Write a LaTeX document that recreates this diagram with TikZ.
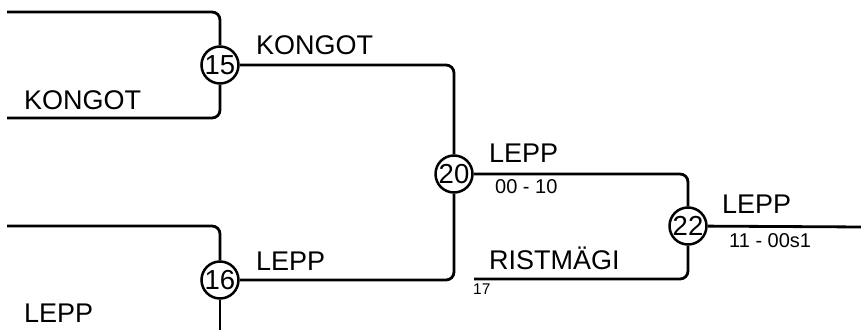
\documentclass[tikz,border=0pt]{standalone}
\usepackage{fontspec}
\setmainfont{Liberation Sans}
\begin{document}
\begin{tikzpicture}[x=1pt,y=-1pt,
  wire/.style={line width=2.8pt,rounded corners=8pt},
  junc/.style={circle,draw,line width=2.5pt,fill=white,minimum size=37pt,inner sep=0pt,font=\fontsize{27.5}{27.5}\selectfont},
  big/.style={anchor=base west,inner sep=0pt,font=\fontsize{27}{27}\selectfont},
  small/.style={anchor=base west,inner sep=0pt,font=\fontsize{20}{20}\selectfont},
  tiny/.style={anchor=base west,inner sep=0pt,font=\fontsize{15.5}{15.5}\selectfont}]
\useasboundingbox (0,0) rectangle (861,329);
% junctions
\node[junc] (n15) at (220,65) {15};
\node[junc] (n16) at (220,280) {16};
\node[junc] (n20) at (454,174) {20};
\node[junc] (n22) at (688,226) {22};
% free ends
\coordinate (a1) at (7,12);
\coordinate (a2) at (7,118);
\coordinate (b1) at (7,226);
\coordinate (b2) at (220,332);
\coordinate (c1) at (474,279);
\coordinate (e1) at (864,227);
% connectors
\draw[wire] (a1) -| (n15);
\draw[wire] (a2) -| (n15);
\draw[wire] (b1) -| (n16);
\draw[wire] (n16) -- (b2);
\draw[wire] (n15) -| (n20);
\draw[wire] (n16) -| (n20);
\draw[wire] (n20) -| (n22);
\draw[wire] (c1) -| (n22);
\draw[wire] (n22) -- (e1);
% labels
\node[big] (t1) at (256,55) {KONGOT};
\node[big] (t2) at (24,109) {KONGOT};
\node[big] (t3) at (256,270) {LEPP};
\node[big] (t4) at (24,322) {LEPP};
\node[big] (t5) at (489,162) {LEPP};
\node[small] (t6) at (495,193) {00 - 10};
\node[big] (t7) at (489,269) {RISTMÄGI};
\node[tiny] (t8) at (473,294) {17};
\node[big] (t9) at (722,213) {LEPP};
\node[small] (t10) at (729,247) {11 - 00s1};
\end{tikzpicture}
\end{document}
